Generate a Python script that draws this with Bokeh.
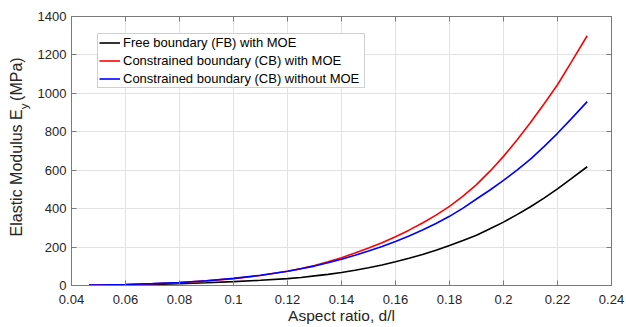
import math
from bokeh.plotting import figure
from bokeh.layouts import row
from bokeh.core.properties import value
from bokeh.models import (LinearAxis, FixedTicker, NumeralTickFormatter, Legend, LegendItem,
                          Range1d)
from bokeh.embed import file_html
from bokeh.resources import INLINE

# ---- data ----
aspect_ratio = [0.0465, 0.05, 0.06, 0.07, 0.08, 0.09, 0.10, 0.11, 0.12, 0.125,
                0.13, 0.135, 0.14, 0.145, 0.15, 0.155, 0.16, 0.165, 0.17, 0.175,
                0.18, 0.185, 0.19, 0.195, 0.20, 0.205, 0.21, 0.215, 0.22, 0.225, 0.231]
fb_with_moe = [1, 1.5, 3, 5.5, 9, 14, 20, 27, 36, 42,
               50, 58, 68, 79, 92, 107, 124, 142, 161, 183,
               208, 234, 262, 295, 330, 369, 410, 455, 503, 555, 618]
cb_with_moe = [1.5, 2.3, 4.8, 9, 15, 24, 36, 52, 74, 88,
               104, 123, 145, 169, 195, 223, 254, 288, 325, 366,
               412, 465, 525, 595, 672, 757, 848, 945, 1045, 1160, 1300]
cb_without_moe = [2, 2.8, 5.5, 10, 16, 25, 37, 53, 74, 87,
                  101, 118, 137, 157, 179, 203, 229, 258, 289, 323,
                  360, 403, 450, 497, 547, 601, 658, 723, 792, 866, 957]

series_names = ["Free boundary (FB) with MOE",
                "Constrained boundary (CB) with MOE",
                "Constrained boundary (CB) without MOE"]
series_colors = ["#000000", "#ff0000", "#0000ff"]

x_ticks = [0.04, 0.06, 0.08, 0.10, 0.12, 0.14, 0.16, 0.18, 0.20, 0.22, 0.24]
y_ticks = [0, 200, 400, 600, 800, 1000, 1200, 1400]
x_lo, x_hi = 0.04, 0.24
y_lo, y_hi = 0, 1400

y_title_main = "Elastic Modulus E"
y_title_sub = "y"
y_title_tail = "(MPa)"
x_title = "Aspect ratio, d/l"

FONT = "Liberation Sans"
AXIS_COLOR = "#7a7a7a"
TEXT_COLOR = "#262626"
GRID_COLOR = "#e2e2e2"

W, H = 626, 327
LABEL_W = 34
FRAME_LEFT, FRAME_RIGHT, FRAME_TOP, FRAME_BOTTOM = 70, 15, 16, 42
FRAME_H = H - FRAME_TOP - FRAME_BOTTOM

# ---------------- main plot ----------------
p = figure(width=W - LABEL_W, height=H, output_backend="svg", toolbar_location=None,
           x_range=Range1d(x_lo, x_hi), y_range=Range1d(y_lo, y_hi),
           min_border_left=FRAME_LEFT - LABEL_W, min_border_right=FRAME_RIGHT,
           min_border_top=FRAME_TOP, min_border_bottom=FRAME_BOTTOM,
           x_axis_location=None, y_axis_location=None)
p.background_fill_color = "white"
p.border_fill_color = "white"
p.outline_line_color = AXIS_COLOR
p.outline_line_width = 1

def style_axis(ax, show_labels):
    ax.axis_line_color = AXIS_COLOR
    ax.major_tick_line_color = AXIS_COLOR
    ax.major_tick_in = 5
    ax.major_tick_out = 0
    ax.minor_tick_line_color = None
    ax.major_label_text_font = FONT
    if show_labels:
        ax.major_label_text_color = TEXT_COLOR
        ax.major_label_text_font_size = "13px"
    else:
        ax.major_label_text_color = None
        ax.major_label_text_font_size = "1px"
        ax.major_label_standoff = 0

xb = LinearAxis(ticker=FixedTicker(ticks=x_ticks), formatter=NumeralTickFormatter(format="0.[00]"))
style_axis(xb, True)
xb.major_label_standoff = 9
xb.axis_label = x_title
xb.axis_label_text_font = FONT
xb.axis_label_text_font_size = "15.5px"
xb.axis_label_text_font_style = "normal"
xb.axis_label_text_color = TEXT_COLOR
xb.axis_label_standoff = 0
p.add_layout(xb, "below")

yl = LinearAxis(ticker=FixedTicker(ticks=y_ticks))
style_axis(yl, True)
yl.major_label_standoff = 5
p.add_layout(yl, "left")

xt = LinearAxis(ticker=FixedTicker(ticks=x_ticks))
style_axis(xt, False)
p.add_layout(xt, "above")
yr = LinearAxis(ticker=FixedTicker(ticks=y_ticks))
style_axis(yr, False)
p.add_layout(yr, "right")

p.xgrid.ticker = FixedTicker(ticks=x_ticks)
p.ygrid.ticker = FixedTicker(ticks=y_ticks)
for g in (p.xgrid, p.ygrid):
    g.grid_line_color = GRID_COLOR
    g.grid_line_width = 1

renderers = []
for ys, c in zip([fb_with_moe, cb_with_moe, cb_without_moe], series_colors):
    r = p.line(aspect_ratio, ys, line_color=c, line_width=1.6)
    renderers.append(r)

legend = Legend(items=[LegendItem(label=n, renderers=[r]) for n, r in zip(series_names, renderers)],
                location=(26, 197), orientation="vertical")
legend.padding = 1
legend.spacing = 3
legend.margin = 0
legend.glyph_height = 15
legend.glyph_width = 21
legend.label_height = 15
legend.label_width = 240
legend.label_standoff = 3
legend.label_text_font = FONT
legend.label_text_font_size = "13px"
legend.label_text_color = "#000000"
legend.border_line_color = "#a0a0a0"
legend.border_line_width = 1
legend.background_fill_color = "white"
legend.background_fill_alpha = 1
p.add_layout(legend)

# ---------------- y-axis title panel (text with subscript) ----------------
lp = figure(width=LABEL_W, height=H, output_backend="svg", toolbar_location=None,
            x_range=Range1d(0, LABEL_W), y_range=Range1d(0, H),
            min_border=0, x_axis_location=None, y_axis_location=None)
lp.outline_line_color = None
lp.background_fill_color = "white"
lp.border_fill_color = "white"
lp.xgrid.visible = False
lp.ygrid.visible = False

ylab_size = 16
sub_size = 11.5
main_w = 7.947 * ylab_size
sub_w = 0.5 * sub_size
space_w = 0.278 * ylab_size
tail_w = 2.722 * ylab_size
total = main_w + sub_w + space_w + tail_w
center_y = H - 149.5
start_y = center_y - total / 2.0
anchor_y = start_y + main_w
col_x = 16
common = dict(angle=math.pi / 2, text_font=value(FONT), text_color=TEXT_COLOR,
              text_baseline=value("middle"))
lp.text(x=[col_x], y=[anchor_y], text=[y_title_main], text_align=value("right"),
        text_font_size=value(f"{ylab_size}px"), **common)
lp.text(x=[col_x + 7], y=[anchor_y], text=[y_title_sub], text_align=value("left"),
        text_font_size=value(f"{sub_size}px"), **common)
lp.text(x=[col_x], y=[anchor_y + sub_w + space_w], text=[y_title_tail], text_align=value("left"),
        text_font_size=value(f"{ylab_size}px"), **common)

layout = row(lp, p, spacing=0)
open("out.html", "w").write(file_html(layout, INLINE))
